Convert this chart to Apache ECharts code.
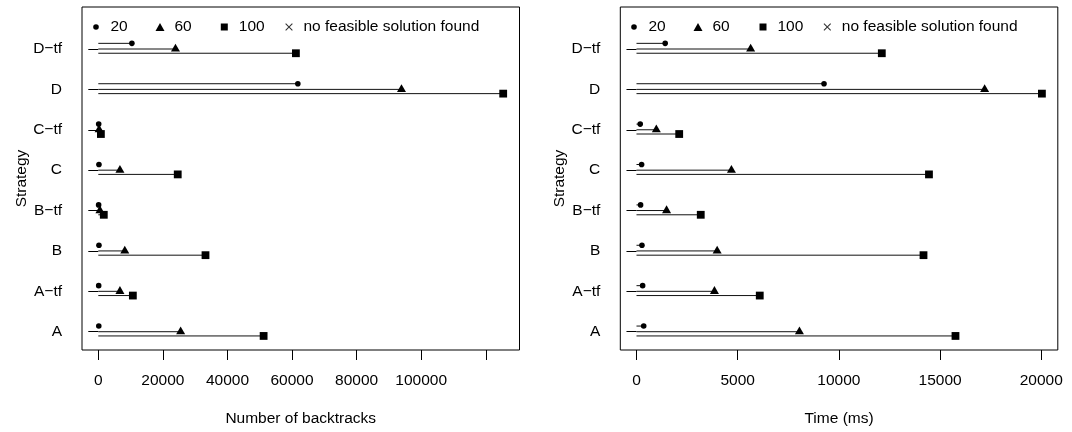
<!DOCTYPE html>
<html>
<head>
<meta charset="utf-8">
<script src="https://cdn.jsdelivr.net/npm/echarts@6/dist/echarts.min.js"></script>
<style>html,body{margin:0;padding:0;background:#fff}#c{width:1072px;height:432px}</style>
</head>
<body>
<div id="c"></div>
<script>
// ---- data ----
const categories = ['A', 'A\u2212tf', 'B', 'B\u2212tf', 'C', 'C\u2212tf', 'D', 'D\u2212tf'];
const sizeNames = ['20', '60', '100'];
const infeasibleName = 'no feasible solution found';

const backtracks20  = [150, 120, 200, 100, 200, 120, 61800, 10400];
const backtracks60  = [25500, 6700, 8200, 500, 6700, 250, 93900, 23900];
const backtracks100 = [51200, 10700, 33200, 1700, 24600, 800, 125400, 61200];

const time20  = [356, 304, 270, 203, 253, 185, 9265, 1418];
const time60  = [8050, 3850, 3985, 1485, 4690, 980, 17200, 5640];
const time100 = [15760, 6090, 14180, 3175, 14450, 2110, 20030, 12120];

const backtrackTicks = [0, 20000, 40000, 60000, 80000, 100000, 120000];
const backtrackTickLabels = [0, 20000, 40000, 60000, 80000, 100000];
const timeTicks = [0, 5000, 10000, 15000, 20000];
const timeTickLabels = [0, 5000, 10000, 15000, 20000];
const categoryTicks = [1, 2, 3, 4, 5, 6, 7, 8];

// ---- style ----
const FONT = 'Liberation Sans, Arial, Helvetica, sans-serif';
const FS = 15.5;
const txt = {fontFamily: FONT, fontSize: FS, color: '#000'};
const offsets = [0.14, 0, -0.105];
const Y_MIN = 0.547, Y_MAX = 9.04;

function drawMarker(kind, x, y) {
  if (kind === 'circle') return {type: 'circle', shape: {cx: x, cy: y, r: 2.8}, style: {fill: '#000'}};
  if (kind === 'triangle') return {type: 'polygon', shape: {points: [[x, y - 5.2], [x + 4.5, y + 2.6], [x - 4.5, y + 2.6]]}, style: {fill: '#000'}};
  return {type: 'rect', shape: {x: x - 3.9, y: y - 3.9, width: 7.8, height: 7.8}, style: {fill: '#000'}};
}
function renderer(offset, kind) {
  return function (params, api) {
    const v = api.value(0);
    const c = api.value(1) + offset;
    const p0 = api.coord([0, c]);
    const p1 = api.coord([v, c]);
    return {
      type: 'group',
      children: [
        {type: 'line', shape: {x1: p0[0], y1: p0[1], x2: p1[0], y2: p1[1]}, style: {stroke: '#111', lineWidth: 1}},
        drawMarker(kind, p1[0], p1[1])
      ]
    };
  };
}
const kinds = ['circle', 'triangle', 'square'];
function panelSeries(arrs, gi) {
  const s = arrs.map((arr, k) => ({
    type: 'custom', name: sizeNames[k], xAxisIndex: gi, yAxisIndex: gi,
    itemStyle: {color: '#000'},
    encode: {x: 0, y: 1},
    renderItem: renderer(offsets[k], kinds[k]),
    data: arr.map((v, i) => [v, i + 1]),
    silent: true
  }));
  s.push({type: 'scatter', name: infeasibleName, xAxisIndex: gi, yAxisIndex: gi, itemStyle: {color: '#000'}, data: []});
  return s;
}

const xPath = 'path://M0,1L1,0L5,4L9,0L10,1L6,5L10,9L9,10L5,6L1,10L0,9L4,5Z';
const trianglePath = 'path://M5,0L10,8.66L0,8.66Z';
const legendIcons = ['circle', trianglePath, 'rect', xPath];
const legendNames = ['20', '60', '100', infeasibleName];
const legendW = [5.6, 9, 7, 7.5];
const legendH = [5.6, 7.8, 7, 7.5];
function legendsAt(centers) {
  return centers.map((c, k) => ({
    left: c - legendW[k] / 2, top: 19, padding: 0,
    itemWidth: legendW[k], itemHeight: legendH[k],
    selectedMode: false,
    data: [{name: legendNames[k], icon: legendIcons[k], itemStyle: {color: '#000'}}],
    textStyle: Object.assign({lineHeight: 16, padding: [0, 0, 0, 14.5 - legendW[k] / 2 - 5]}, txt)
  }));
}

function xAxisCfg(gi, min, max, ticks, labels, name) {
  return {
    type: 'value', gridIndex: gi, min: min, max: max,
    axisLine: {show: false}, splitLine: {show: false},
    axisTick: {show: true, length: 10, customValues: ticks, lineStyle: {color: '#000', width: 1}},
    axisLabel: Object.assign({customValues: labels, margin: 23, formatter: v => String(v)}, txt),
    name: name, nameLocation: 'middle', nameGap: 61, nameTextStyle: txt
  };
}
function yAxisCfg(gi) {
  return {
    type: 'value', gridIndex: gi, min: Y_MIN, max: Y_MAX,
    axisLine: {show: false}, splitLine: {show: false},
    axisTick: {show: true, length: 10, customValues: categoryTicks, lineStyle: {color: '#000', width: 1}},
    axisLabel: Object.assign({customValues: categoryTicks, margin: 20, formatter: v => categories[Math.round(v) - 1]}, txt),
    name: 'Strategy', nameLocation: 'middle', nameGap: 52, nameRotate: 90, nameTextStyle: txt
  };
}

const chart = echarts.init(document.getElementById('c'), null, {renderer: 'canvas'});
chart.setOption({
  animation: false,
  backgroundColor: '#fff',
  color: ['#000'],
  textStyle: {fontFamily: FONT},
  grid: [
    {left: 82, top: 7, width: 437.5, height: 343, show: true, borderColor: '#000', borderWidth: 1, backgroundColor: 'transparent'},
    {left: 620.3, top: 7, width: 437.5, height: 343, show: true, borderColor: '#000', borderWidth: 1, backgroundColor: 'transparent'}
  ],
  xAxis: [
    xAxisCfg(0, -5050, 130450, backtrackTicks, backtrackTickLabels, 'Number of backtracks'),
    xAxisCfg(1, -800, 20815, timeTicks, timeTickLabels, 'Time (ms)')
  ],
  yAxis: [yAxisCfg(0), yAxisCfg(1)],
  legend: legendsAt([96, 160, 224.3, 289]).concat(legendsAt([634, 698, 763, 827.3])),
  series: panelSeries([backtracks20, backtracks60, backtracks100], 0)
    .concat(panelSeries([time20, time60, time100], 1))
});
</script>
</body>
</html>
